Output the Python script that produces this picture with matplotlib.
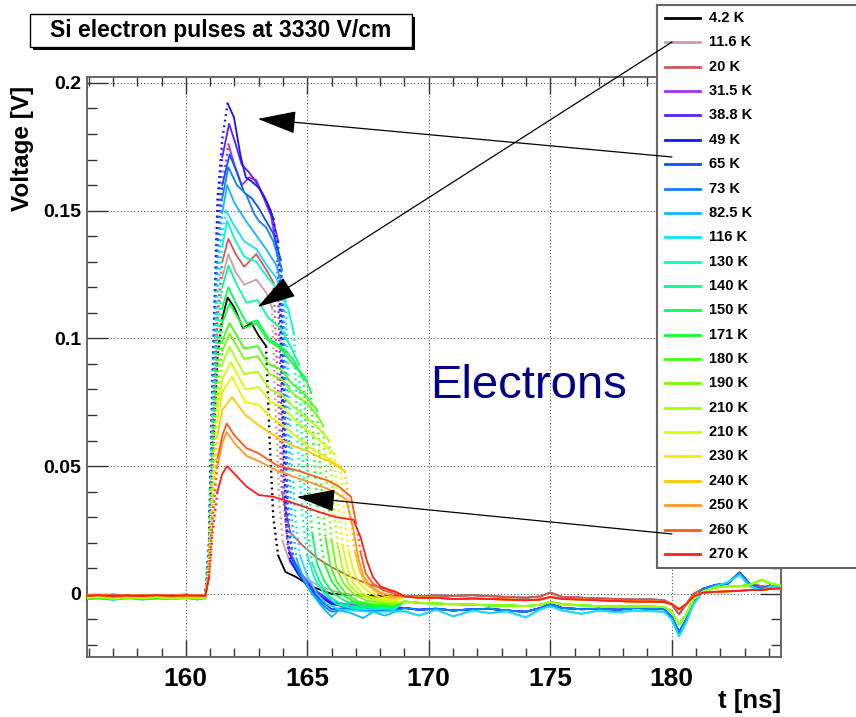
import matplotlib
matplotlib.use("Agg")
import matplotlib.pyplot as plt
import matplotlib.ticker as mticker
from matplotlib.patches import Rectangle, ConnectionPatch
from matplotlib.lines import Line2D

plt.rcParams['font.family'] = ['Liberation Sans', 'DejaVu Sans']
plt.rcParams['font.weight'] = 'bold'

# ── Data ──────────────────────────────────────────────────────────────────────
LABELS = ["4.2 K", "11.6 K", "20 K", "31.5 K", "38.8 K", "49 K", "65 K", "73 K",
          "82.5 K", "116 K", "130 K", "140 K", "150 K", "171 K", "180 K", "190 K",
          "210 K", "210 K", "230 K", "240 K", "250 K", "260 K", "270 K"]
COLORS = ['#000000', '#c8a0a0', '#d05858', '#9a33ff', '#5a1eff', '#1414ff',
          '#0a50ff', '#0a80ff', '#14b4ff', '#10e0ff', '#00ffc8', '#00ff96',
          '#00ff5a', '#10ff30', '#40ff10', '#70ff00', '#a8ff00', '#d0ff00',
          '#f0f000', '#ffc800', '#ff9628', '#ff5a14', '#ff1e1e']
# which baseline / tail shape each curve follows
KIND = ['black', 'black', 'black', 'cold', 'cold', 'cold', 'cold', 'cold',
        'cyan', 'cyan', 'mid', 'mid', 'mid', 'mid', 'mid', 'mid', 'mid',
        'warm', 'warm', 'warm', 'warm', 'warm', 'warm']

# pre-pulse baseline [ns], [V]
BASE_T = [155.9, 156.4, 157.0, 157.6, 158.2, 158.8, 159.4, 160.0, 160.5]
BASE_BLACK = [-0.0004, -0.0007, -0.0003, -0.0006, -0.0004, -0.0007, -0.0005, -0.0003, -0.0006]
BASE_WARM = [-0.0008, -0.0005, -0.0009, -0.0006, -0.0008, -0.0005, -0.0008, -0.0006, -0.0007]
BASE_MID = [-0.0016, -0.0013, -0.0019, -0.0014, -0.0017, -0.0013, -0.0018, -0.0014, -0.0016]
BASE_COLD = [-0.0011, -0.0009, -0.0014, -0.001, -0.0008, -0.0012, -0.001, -0.0013, -0.001]
BASE_CYAN = [-0.0021, -0.0017, -0.0023, -0.0016, -0.0022, -0.0018, -0.002, -0.0016, -0.0022]

# pulse part, one list per curve (same order as LABELS)
PULSE_T = [
    [160.8, 160.95, 161.1, 161.3, 161.5, 161.72, 162.0, 162.35, 162.7, 163.0, 163.3, 163.45, 163.6, 163.8, 164.1, 164.5, 165.2, 166.0, 167.0, 168.0, 168.6],
    [160.8, 160.95, 161.1, 161.3, 161.5, 161.75, 162.05, 162.4, 162.9, 163.3, 163.55, 163.7, 163.85, 164.0, 164.3, 164.8, 165.5, 166.3, 167.2, 168.0, 168.6],
    [160.8, 160.95, 161.1, 161.3, 161.5, 161.75, 162.05, 162.4, 162.9, 163.3, 163.6, 163.8, 163.95, 164.3, 164.8, 165.4, 166.0, 166.6, 167.2, 167.8, 168.5],
    [160.8, 160.95, 161.1, 161.3, 161.5, 161.75, 162.0, 162.3, 162.6, 162.9, 163.2, 163.5, 163.75, 163.9, 164.05, 164.2, 164.5, 164.9, 165.4, 166.0, 166.6, 167.3, 168.0, 168.6],
    [160.8, 160.95, 161.1, 161.3, 161.5, 161.78, 162.05, 162.3, 162.6, 162.9, 163.2, 163.5, 163.8, 163.95, 164.1, 164.25, 164.5, 164.9, 165.4, 166.0, 166.6, 167.3, 168.0, 168.6],
    [160.8, 160.95, 161.1, 161.3, 161.5, 161.72, 161.98, 162.26, 162.47, 162.67, 163.0, 163.3, 163.6, 163.85, 164.0, 164.15, 164.3, 164.6, 165.0, 165.5, 166.0, 166.6, 167.3, 168.0, 168.6],
    [160.8, 160.95, 161.1, 161.3, 161.5, 161.8, 162.1, 162.4, 162.7, 163.0, 163.3, 163.6, 163.9, 164.05, 164.2, 164.4, 164.7, 165.1, 165.6, 166.0, 166.6, 167.3, 168.0, 168.6],
    [160.8, 160.95, 161.1, 161.3, 161.5, 161.75, 162.1, 162.47, 162.8, 163.0, 163.3, 163.6, 163.95, 164.1, 164.25, 164.45, 164.8, 165.2, 165.7, 166.0, 166.6, 167.3, 168.0, 168.6],
    [160.8, 160.95, 161.1, 161.3, 161.5, 161.7, 162.0, 162.47, 162.95, 163.3, 163.7, 164.0, 164.2, 164.35, 164.55, 164.8, 165.2, 165.6, 166.0, 166.3, 166.8, 167.3, 167.7, 168.2, 168.6],
    [160.8, 160.95, 161.1, 161.3, 161.5, 161.65, 162.0, 162.4, 162.9, 163.3, 163.7, 164.1, 164.3, 164.5, 164.7, 165.0, 165.4, 165.8, 166.3, 166.9, 167.5, 168.1, 168.6],
    [160.8, 160.95, 161.1, 161.3, 161.5, 161.7, 162.0, 162.4, 162.9, 163.35, 163.8, 164.2, 164.45, 164.6, 164.8, 165.0, 165.3, 165.7, 166.2, 166.8, 167.5, 168.1, 168.6],
    [160.8, 160.95, 161.1, 161.3, 161.5, 161.75, 162.1, 162.5, 162.95, 163.4, 163.9, 164.3, 164.65, 164.8, 165.0, 165.2, 165.5, 165.9, 166.4, 167.0, 167.6, 168.1, 168.6],
    [160.8, 160.95, 161.1, 161.3, 161.5, 161.75, 162.1, 162.5, 162.95, 163.4, 163.9, 164.4, 164.85, 165.0, 165.2, 165.4, 165.7, 166.1, 166.6, 167.2, 167.8, 168.6],
    [160.8, 160.95, 161.1, 161.3, 161.5, 161.8, 162.4, 162.9, 163.4, 163.9, 164.4, 164.9, 165.15, 165.3, 165.5, 165.7, 166.0, 166.4, 166.9, 167.5, 168.1, 168.6],
    [160.8, 160.95, 161.1, 161.3, 161.5, 161.8, 162.4, 162.95, 163.4, 163.9, 164.4, 164.9, 165.4, 165.55, 165.75, 165.95, 166.2, 166.6, 167.1, 167.7, 168.2, 168.6],
    [160.8, 160.95, 161.1, 161.3, 161.5, 161.8, 162.4, 162.95, 163.45, 163.95, 164.45, 164.95, 165.4, 165.65, 165.8, 166.0, 166.2, 166.5, 166.9, 167.4, 168.0, 168.6],
    [160.8, 160.95, 161.1, 161.3, 161.5, 161.8, 162.4, 162.95, 163.45, 163.95, 164.45, 164.95, 165.45, 165.9, 166.05, 166.25, 166.45, 166.7, 167.1, 167.6, 168.1, 168.6],
    [160.8, 160.95, 161.1, 161.3, 161.5, 161.85, 162.45, 163.0, 163.5, 164.0, 164.5, 165.0, 165.5, 166.1, 166.25, 166.45, 166.65, 166.9, 167.3, 167.8, 168.6],
    [160.8, 160.95, 161.1, 161.3, 161.5, 161.9, 162.45, 163.0, 163.5, 164.0, 164.5, 165.0, 165.5, 166.0, 166.35, 166.5, 166.7, 166.9, 167.15, 167.5, 168.0, 168.6],
    [160.8, 160.95, 161.1, 161.3, 161.5, 161.9, 162.45, 163.0, 163.8, 164.4, 165.0, 165.5, 166.0, 166.55, 166.75, 166.95, 167.15, 167.4, 167.8, 168.2, 168.6],
    [160.8, 160.95, 161.1, 161.3, 161.5, 161.68, 162.0, 162.5, 163.0, 163.8, 164.4, 165.0, 165.6, 166.1, 166.6, 166.9, 167.1, 167.3, 167.6, 168.0, 168.6],
    [160.8, 160.95, 161.1, 161.3, 161.5, 161.68, 162.0, 162.5, 163.0, 163.8, 164.3, 164.7, 165.3, 165.8, 166.3, 166.8, 167.0, 167.2, 167.4, 167.7, 168.1, 168.6],
    [160.8, 160.95, 161.1, 161.3, 161.5, 161.7, 162.0, 162.5, 163.0, 163.6, 164.3, 164.9, 165.5, 166.2, 166.9, 167.2, 167.45, 167.7, 168.0, 168.4, 168.6],
]
PULSE_V = [
    [-0.001, 0.012, 0.052, 0.093, 0.108, 0.116, 0.112, 0.104, 0.106, 0.101, 0.097, 0.06, 0.03, 0.015, 0.0086, 0.0068, 0.0028, 0.0, -0.0005, -0.0008, -0.0007],
    [-0.0008, 0.013, 0.06, 0.106, 0.124, 0.133, 0.126, 0.121, 0.123, 0.118, 0.112, 0.07, 0.035, 0.02, 0.012, 0.007, 0.003, 0.0005, -0.001, -0.0015, -0.0018],
    [-0.0008, 0.014, 0.063, 0.11, 0.13, 0.139, 0.133, 0.128, 0.133, 0.127, 0.122, 0.08, 0.04, 0.024, 0.019, 0.014, 0.0105, 0.0075, 0.005, 0.003, 0.0012],
    [-0.0012, 0.017, 0.077, 0.138, 0.16, 0.176, 0.168, 0.16, 0.163, 0.162, 0.155, 0.148, 0.135, 0.08, 0.035, 0.018, 0.012, 0.006, 0.001, -0.003, -0.004, -0.0045, -0.005, -0.005],
    [-0.0012, 0.018, 0.083, 0.147, 0.171, 0.184, 0.176, 0.168, 0.165, 0.161, 0.156, 0.15, 0.138, 0.08, 0.03, 0.016, 0.011, 0.005, 0.0005, -0.0035, -0.0045, -0.005, -0.0055, -0.0055],
    [-0.0012, 0.019, 0.086, 0.154, 0.178, 0.192, 0.1865, 0.171, 0.163, 0.1617, 0.159, 0.154, 0.147, 0.13, 0.07, 0.025, 0.013, 0.008, 0.003, -0.001, -0.004, -0.005, -0.0055, -0.006, -0.006],
    [-0.0013, 0.017, 0.077, 0.137, 0.16, 0.172, 0.165, 0.157, 0.155, 0.151, 0.146, 0.141, 0.131, 0.075, 0.028, 0.014, 0.008, 0.002, -0.003, -0.006, -0.0055, -0.006, -0.0062, -0.0062],
    [-0.0014, 0.017, 0.075, 0.134, 0.155, 0.167, 0.16, 0.1566, 0.149, 0.146, 0.1435, 0.138, 0.127, 0.07, 0.026, 0.012, 0.006, 0.0, -0.005, -0.007, -0.006, -0.0065, -0.0065, -0.0068],
    [-0.0016, 0.016, 0.072, 0.128, 0.149, 0.160, 0.153, 0.146, 0.1396, 0.135, 0.129, 0.12, 0.07, 0.03, 0.014, 0.007, 0.0, -0.005, -0.009, -0.0065, -0.0075, -0.0095, -0.007, -0.0085, -0.007],
    [-0.0015, 0.015, 0.068, 0.12, 0.14, 0.150, 0.144, 0.138, 0.135, 0.129, 0.124, 0.115, 0.065, 0.03, 0.015, 0.007, 0.0, -0.004, -0.006, -0.0065, -0.007, -0.007, -0.0068],
    [-0.0016, 0.015, 0.066, 0.117, 0.136, 0.146, 0.139, 0.132, 0.130, 0.124, 0.119, 0.112, 0.102, 0.06, 0.03, 0.015, 0.006, 0.0, -0.004, -0.0055, -0.006, -0.0058, -0.006],
    [-0.0017, 0.013, 0.058, 0.103, 0.12, 0.1285, 0.121, 0.114, 0.115, 0.108, 0.104, 0.097, 0.09, 0.055, 0.025, 0.012, 0.005, -0.001, -0.004, -0.005, -0.0052, -0.0052, -0.0055],
    [-0.0018, 0.012, 0.054, 0.096, 0.112, 0.120, 0.113, 0.106, 0.107, 0.100, 0.097, 0.092, 0.084, 0.05, 0.024, 0.012, 0.005, 0.0, -0.003, -0.0045, -0.005, -0.005],
    [-0.0018, 0.011, 0.051, 0.091, 0.106, 0.1137, 0.104, 0.106, 0.099, 0.096, 0.09, 0.085, 0.079, 0.05, 0.024, 0.012, 0.005, 0.0, -0.003, -0.0042, -0.0045, -0.0048],
    [-0.0017, 0.011, 0.048, 0.085, 0.099, 0.106, 0.096, 0.097, 0.09, 0.088, 0.082, 0.078, 0.072, 0.046, 0.022, 0.011, 0.005, 0.0, -0.003, -0.004, -0.0042, -0.0045],
    [-0.0016, 0.010, 0.046, 0.082, 0.095, 0.102, 0.092, 0.093, 0.086, 0.084, 0.078, 0.075, 0.07, 0.066, 0.042, 0.021, 0.01, 0.004, 0.0, -0.0025, -0.0035, -0.004],
    [-0.0015, 0.010, 0.043, 0.077, 0.09, 0.0966, 0.086, 0.087, 0.08, 0.078, 0.073, 0.069, 0.065, 0.06, 0.038, 0.019, 0.01, 0.004, 0.0, -0.002, -0.003, -0.0035],
    [-0.0014, 0.009, 0.041, 0.073, 0.084, 0.0907, 0.08, 0.081, 0.075, 0.073, 0.068, 0.064, 0.06, 0.055, 0.036, 0.019, 0.01, 0.004, 0.0, -0.002, -0.003],
    [-0.0012, 0.009, 0.038, 0.068, 0.079, 0.085, 0.075, 0.074, 0.069, 0.066, 0.062, 0.058, 0.055, 0.052, 0.05, 0.033, 0.017, 0.009, 0.004, 0.001, -0.0015, -0.0025],
    [-0.001, 0.008, 0.035, 0.062, 0.072, 0.077, 0.07, 0.066, 0.061, 0.058, 0.056, 0.0535, 0.0515, 0.048, 0.032, 0.017, 0.009, 0.004, 0.001, -0.001, -0.0015],
    [-0.0009, 0.007, 0.029, 0.05, 0.059, 0.0634, 0.059, 0.054, 0.052, 0.048, 0.046, 0.044, 0.042, 0.040, 0.037, 0.025, 0.014, 0.007, 0.003, 0.0005, -0.001],
    [-0.0008, 0.007, 0.03, 0.053, 0.062, 0.0667, 0.062, 0.057, 0.055, 0.050, 0.049, 0.048, 0.046, 0.0445, 0.042, 0.038, 0.028, 0.016, 0.008, 0.004, 0.0015, 0.0],
    [-0.0006, 0.006, 0.024, 0.04, 0.047, 0.050, 0.047, 0.042, 0.0387, 0.038, 0.036, 0.034, 0.032, 0.030, 0.029, 0.022, 0.013, 0.0066, 0.003, 0.0015, 0.001],
]

# after-pulse tail, including the reflection near 180 ns
TAIL_T = [169.0, 169.6, 170.3, 171.0, 171.8, 172.5, 173.2, 174.0, 174.6, 175.0,
          175.5, 176.3, 177.0, 177.8, 178.5, 179.2, 179.7, 180.0, 180.3, 180.6,
          180.9, 181.3, 181.8, 182.3, 182.8, 183.2, 183.7, 184.1, 184.6]
TAIL_BLACK = [-0.0008, -0.001, -0.0006, -0.0008, -0.0005, -0.0009, -0.0012, -0.0015, -0.001, 0.0005,
              -0.0012, -0.0015, -0.0018, -0.002, -0.0022, -0.0022, -0.0025, -0.004, -0.008, -0.004,
              0.0, 0.002, 0.003, 0.004, 0.0085, 0.004, 0.003, 0.0025, 0.0015]
TAIL_WARM = [-0.001, -0.0015, -0.0015, -0.002, -0.0018, -0.002, -0.0022, -0.0025, -0.0022, -0.0012,
             -0.002, -0.0022, -0.0025, -0.0028, -0.003, -0.003, -0.0032, -0.004, -0.006, -0.004,
             -0.001, 0.0005, 0.0008, 0.001, 0.0012, 0.0015, 0.0015, 0.002, 0.0022]
TAIL_MID = [-0.003, -0.0035, -0.0038, -0.004, -0.0042, -0.0045, -0.0045, -0.0048, -0.0042, -0.0032,
            -0.004, -0.0045, -0.0048, -0.005, -0.005, -0.005, -0.0052, -0.007, -0.012, -0.008,
            -0.002, 0.001, 0.0025, 0.003, 0.003, 0.0035, 0.0055, 0.004, 0.003]
TAIL_COLD = [-0.0055, -0.0062, -0.0058, -0.0065, -0.006, -0.0058, -0.0065, -0.007, -0.0055, -0.004,
             -0.0055, -0.006, -0.0058, -0.0062, -0.0055, -0.0058, -0.006, -0.009, -0.015, -0.01,
             -0.003, 0.002, 0.0035, 0.004, 0.0082, 0.004, 0.002, 0.0035, 0.002]
TAIL_CYAN = [-0.0068, -0.0085, -0.0062, -0.0088, -0.0065, -0.0075, -0.0068, -0.0092, -0.006, -0.0048,
             -0.0065, -0.0078, -0.0065, -0.0072, -0.0065, -0.0068, -0.007, -0.01, -0.0165, -0.011,
             -0.004, 0.001, 0.003, 0.0045, 0.0075, 0.003, 0.0015, 0.003, 0.002]

BASES = {'black': BASE_BLACK, 'warm': BASE_WARM, 'mid': BASE_MID, 'cold': BASE_COLD, 'cyan': BASE_CYAN}
TAILS = {'black': TAIL_BLACK, 'warm': TAIL_WARM, 'mid': TAIL_MID, 'cold': TAIL_COLD, 'cyan': TAIL_CYAN}

W, H = 856, 717
def fx(x): return x / W
def fy(y): return 1 - y / H

STEEP = 0.06   # V/ns: sampled points get sparse on fast edges -> drawn dotted

# ── Figure / axes ─────────────────────────────────────────────────────────────
fig = plt.figure(figsize=(W / 100, H / 100), dpi=100, facecolor='white')
ax = fig.add_axes([fx(87), fy(657), fx(781) - fx(87), fy(77) - fy(657)])

for i in range(len(LABELS)):
    t = BASE_T + PULSE_T[i] + TAIL_T
    v = BASES[KIND[i]] + PULSE_V[i] + TAILS[KIND[i]]
    # split the trace into runs of slow (solid) and fast (dotted) segments
    runs = []
    for k in range(len(t) - 1):
        fast = abs(v[k + 1] - v[k]) / (t[k + 1] - t[k]) > STEEP
        if runs and runs[-1][0] == fast:
            runs[-1][1].append(k + 1)
        else:
            runs.append([fast, [k, k + 1]])
    for fast, idx in runs:
        ax.plot([t[j] for j in idx], [v[j] for j in idx], color=COLORS[i],
                lw=1.7 if fast else 1.3,
                linestyle=(0, (0.8, 1.6)) if fast else '-',
                solid_joinstyle='round', zorder=3)

ax.set_xlim(155.93, 184.5)
ax.set_ylim(-0.0247, 0.2023)
ax.xaxis.set_major_locator(mticker.MultipleLocator(5))
ax.xaxis.set_minor_locator(mticker.MultipleLocator(1))
ax.yaxis.set_major_locator(mticker.MultipleLocator(0.05))
ax.yaxis.set_minor_locator(mticker.MultipleLocator(0.01))
ax.yaxis.set_major_formatter(mticker.FuncFormatter(lambda v, _: f"{v:g}"))
ax.grid(True, which='major', linestyle=(0, (1, 2)), color='#555555', lw=0.8, zorder=1)

ax.tick_params(which='both', direction='in', top=True, right=True, color='#333333', width=1)
ax.tick_params(axis='x', which='major', length=12.5, labelsize=19, pad=7)
ax.tick_params(axis='x', which='minor', length=6.2)
ax.tick_params(axis='y', which='major', length=15, labelsize=14, pad=4)
ax.tick_params(axis='y', which='minor', length=7.5)
for lbl in ax.get_xticklabels() + ax.get_yticklabels():
    lbl.set_fontweight('bold')
for sp in ax.spines.values():
    sp.set_color('#666666')
    sp.set_linewidth(1.4)

# axis titles
fig.text(fx(22), fy(86), "Voltage [V]", rotation=90, ha='center', va='top',
         fontsize=17.5, fontweight='bold')
fig.text(fx(781), fy(708), "t [ns]", ha='right', va='baseline',
         fontsize=18.5, fontweight='bold')

# big label
fig.text(fx(430), fy(398), "Electrons", ha='left', va='baseline',
         fontsize=34, fontweight='normal', color='#000088')

# ── Title box with shadow ─────────────────────────────────────────────────────
fig.add_artist(Rectangle((fx(33), fy(50)), fx(415) - fx(33), fy(17) - fy(50),
                         transform=fig.transFigure, facecolor='black',
                         edgecolor='black', lw=0, zorder=4))
fig.add_artist(Rectangle((fx(30), fy(47)), fx(412) - fx(30), fy(14) - fy(47),
                         transform=fig.transFigure, facecolor='white',
                         edgecolor='black', lw=1.0, zorder=5))
fig.text(fx(221), fy(31), "Si electron pulses at 3330 V/cm", ha='center', va='center',
         fontsize=16.5, fontweight='bold', zorder=6)

# ── Legend (hand-built, running off the right edge like the original) ────────
fig.add_artist(Rectangle((fx(657), fy(568)), fx(880) - fx(657), fy(5) - fy(568),
                         transform=fig.transFigure, facecolor='white',
                         edgecolor='#666666', lw=1.5, zorder=5))
for i, (lab, col) in enumerate(zip(LABELS, COLORS)):
    yy = 18 + i * 24.36
    fig.add_artist(Line2D([fx(665), fx(700)], [fy(yy), fy(yy)], transform=fig.transFigure,
                          color=col, lw=2.0, zorder=6))
    fig.text(fx(709), fy(yy), lab, ha='left', va='center', fontsize=10.5,
             fontweight='bold', zorder=6)

# ── Arrows from the legend into the plot ─────────────────────────────────────
ARROWS = [((672, 157), (162.96, 0.1859)),
          ((672, 42), (162.96, 0.1123)),
          ((672, 534), (164.57, 0.0380))]
for (tx, ty), tip in ARROWS:
    cp = ConnectionPatch(xyA=(fx(tx), fy(ty)), coordsA=fig.transFigure,
                         xyB=tip, coordsB=ax.transData,
                         arrowstyle="-|>,head_length=2.45,head_width=0.72",
                         mutation_scale=10, color='black', lw=0.9,
                         shrinkA=0, shrinkB=0, zorder=8)
    fig.add_artist(cp)

fig.savefig("out.png", dpi=100, facecolor='white')
